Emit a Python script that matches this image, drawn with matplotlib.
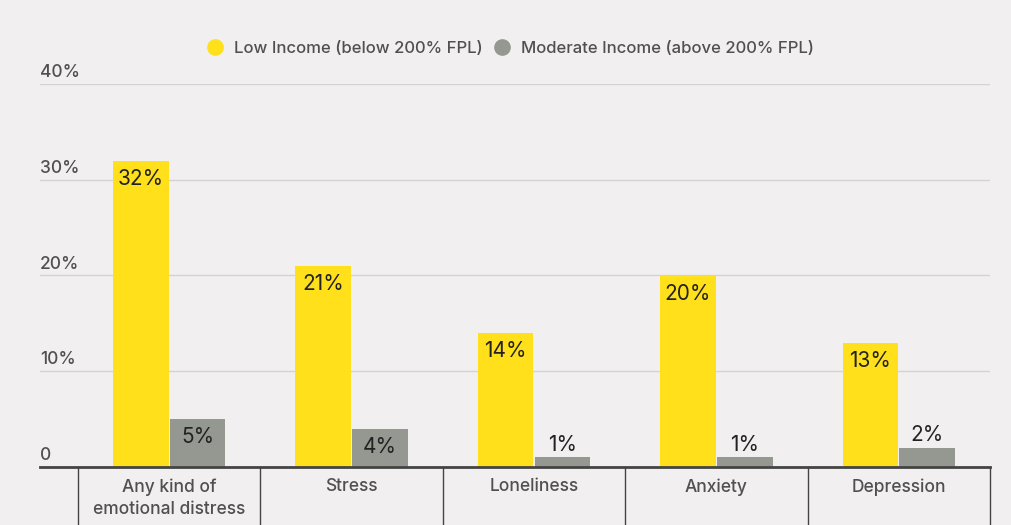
import matplotlib.pyplot as plt
from matplotlib.lines import Line2D
import matplotlib.transforms as mtransforms

plt.rcParams['font.family'] = ['Inter', 'DejaVu Sans']

categories = ['Any kind of\nemotional distress', 'Stress', 'Loneliness', 'Anxiety', 'Depression']
low_income = [32, 21, 14, 20, 13]
moderate_income = [5, 4, 1, 1, 2]
series_names = ['Low Income (below 200% FPL)', 'Moderate Income (above 200% FPL)']
yticks = [0, 10, 20, 30, 40]
ytick_labels = ['0', '10%', '20%', '30%', '40%']

bg = '#f1eff0'
yellow = '#ffe01b'
grey = '#959890'

fig = plt.figure(figsize=(10.11, 5.25), dpi=100, facecolor=bg)
ax = fig.add_axes([0.0396, 0.1105, 0.9396, 0.7295], facecolor=bg)

w = 0.305
x = list(range(len(categories)))
b1 = ax.bar([i - w / 2 - 0.003 for i in x], low_income, width=w, color=yellow, zorder=3)
b2 = ax.bar([i + w / 2 + 0.003 for i in x], moderate_income, width=w, color=grey, zorder=3)

ax.set_xlim(-0.708, 4.5)
ax.set_ylim(0, 40)

for v in yticks[1:]:
    ax.axhline(v, color='#d4d2d3', lw=1, zorder=1)
trans = mtransforms.blended_transform_factory(ax.transAxes, ax.transData)
for v, lab in zip(yticks, ytick_labels):
    ax.text(0.0, v + 0.3, lab, transform=trans, ha='left', va='bottom',
            fontsize=12.5, color='#505050', fontweight='medium')

# value labels
for bars, vals in ((b1, low_income), (b2, moderate_income)):
    for rect, v in zip(bars, vals):
        cx = rect.get_x() + rect.get_width() / 2
        if v >= 3:
            ax.text(cx, v - 1.9, f'{v}%', ha='center', va='center',
                    fontsize=15, color='#222222', zorder=4)
        else:
            ax.text(cx, v + 1.3, f'{v}%', ha='center', va='center',
                    fontsize=15, color='#222222', zorder=4)

ax.set_xticks([])
ax.set_yticks([])
for s in ['top', 'right', 'left']:
    ax.spines[s].set_visible(False)
ax.spines['bottom'].set_color('#444444')
ax.spines['bottom'].set_linewidth(2)
ax.spines['bottom'].set_zorder(5)

# category separators and labels below the axis
tb = mtransforms.blended_transform_factory(ax.transData, ax.transAxes)
for i in range(len(categories) + 1):
    ax.add_line(Line2D([i - 0.5, i - 0.5], [0, -0.16], transform=tb,
                       color='#444444', lw=1, clip_on=False))
for i, c in enumerate(categories):
    ax.text(i, -0.030, c, transform=tb, ha='center', va='top', fontsize=12.5,
            color='#505050', linespacing=1.4, fontweight='medium')

handles = [Line2D([], [], marker='o', ls='', markersize=11, color=yellow),
           Line2D([], [], marker='o', ls='', markersize=11, color=grey)]
fig.legend(handles, series_names, loc='center', bbox_to_anchor=(0.505, 0.908),
           ncol=2, frameon=False, handlelength=1.0, handletextpad=0.65,
           columnspacing=0.64, labelcolor='#505050',
           prop={'size': 12, 'weight': 'medium'})

fig.savefig('out.png', dpi=100, facecolor=bg)
